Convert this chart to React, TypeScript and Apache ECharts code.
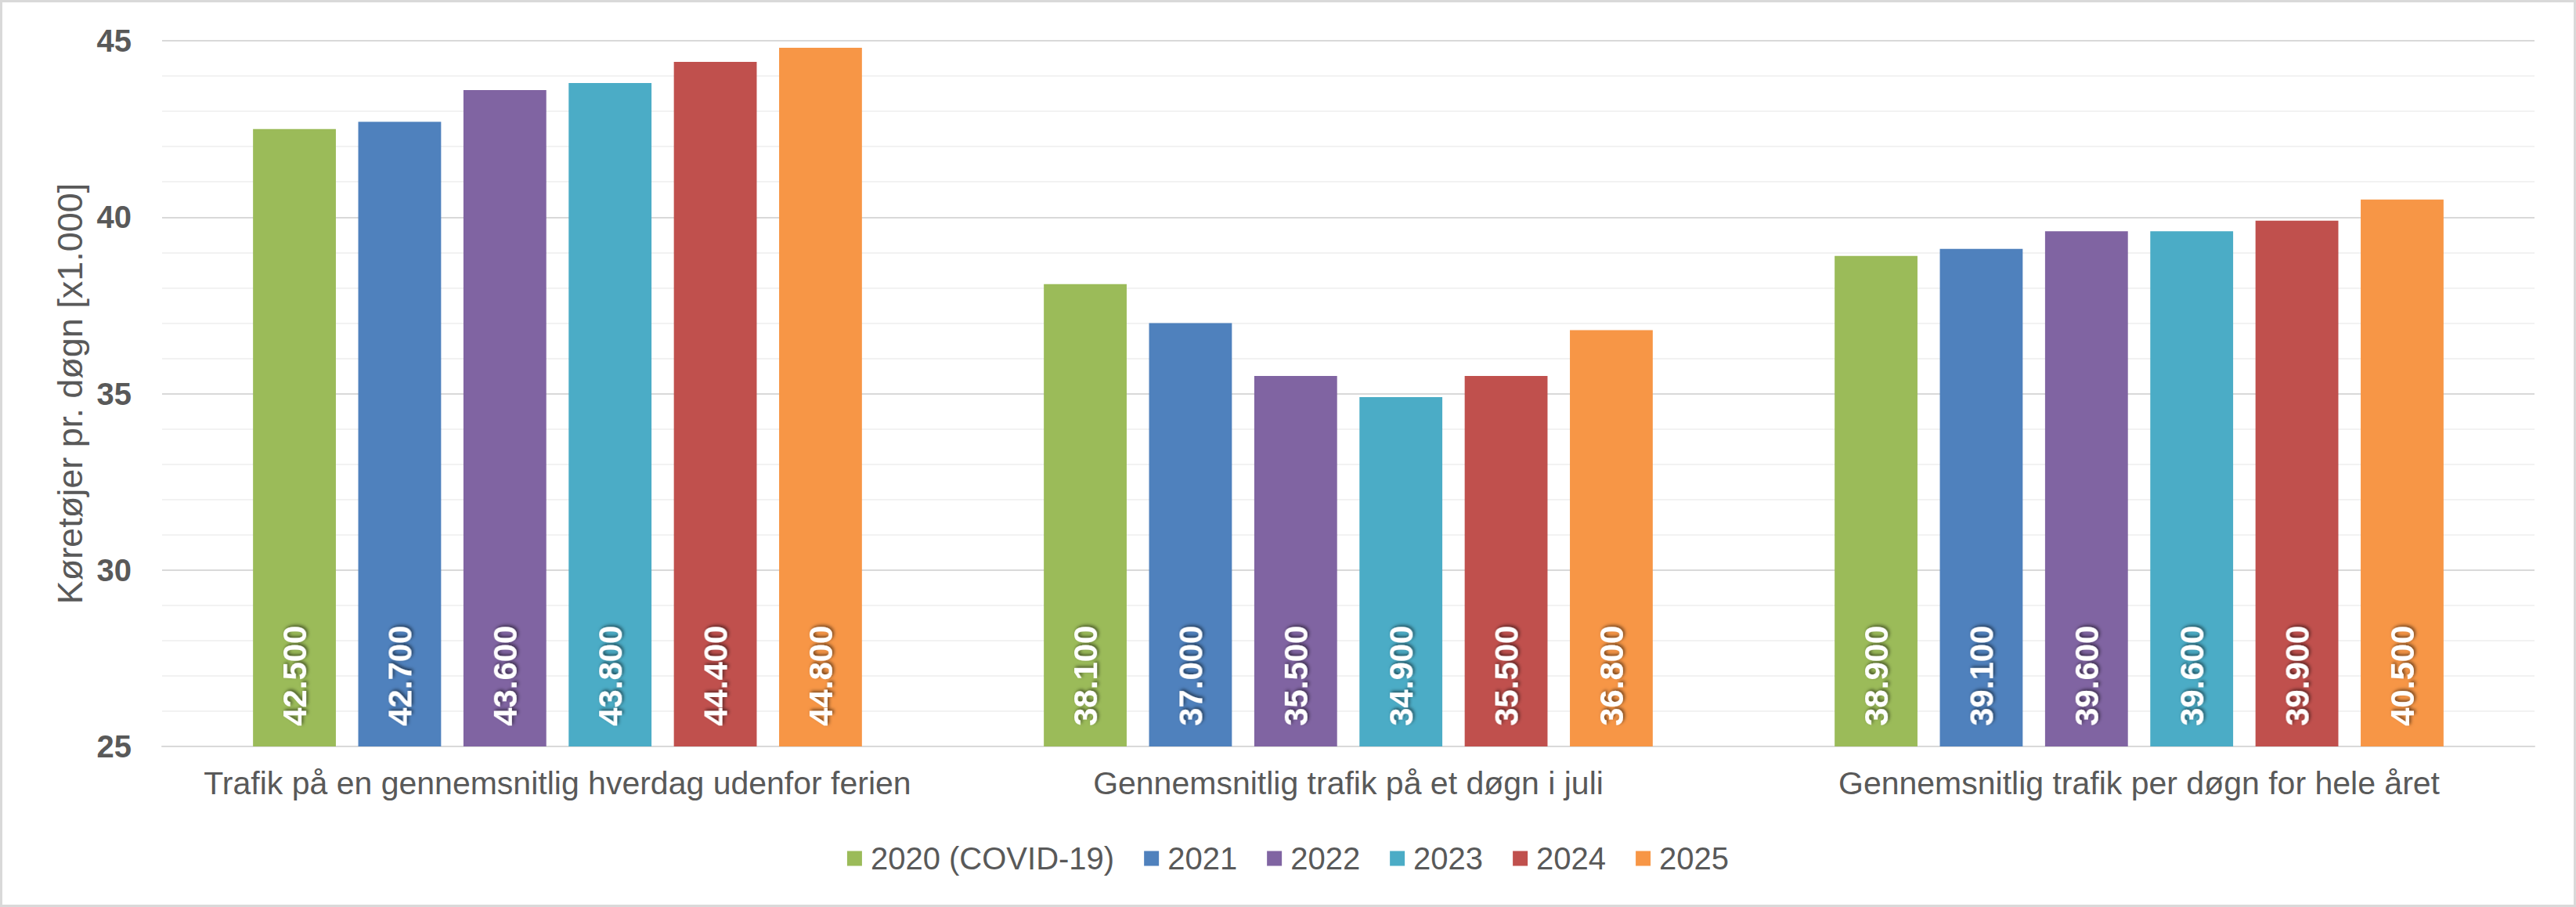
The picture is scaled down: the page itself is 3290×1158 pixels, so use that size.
import React, { useEffect, useRef } from 'react';
import * as echarts from 'echarts';

const categories = [
  'Trafik på en gennemsnitlig hverdag udenfor ferien',
  'Gennemsnitlig trafik på et døgn i juli',
  'Gennemsnitlig trafik per døgn for hele året',
];

const years = ['2020 (COVID-19)', '2021', '2022', '2023', '2024', '2025'];
const colors = ['#9BBB59', '#4F81BD', '#8064A2', '#4BACC6', '#C0504D', '#F79646'];

// vehicles per day, in thousands (one array per year, one value per category)
const v2020 = [42.5, 38.1, 38.9];
const v2021 = [42.7, 37.0, 39.1];
const v2022 = [43.6, 35.5, 39.6];
const v2023 = [43.8, 34.9, 39.6];
const v2024 = [44.4, 35.5, 39.9];
const v2025 = [44.8, 36.8, 40.5];
const seriesValues = [v2020, v2021, v2022, v2023, v2024, v2025];

const FONT = '"Liberation Sans", Arial, sans-serif';
const GREY = '#595959';

// 42.5 -> "42.500" (Danish thousands separator)
const formatThousands = (v: number): string => {
  const s = String(Math.round(v * 1000));
  return s.replace(/\B(?=(\d{3})+(?!\d))/g, '.');
};

const App: React.FC = () => {
  const chartRef = useRef<HTMLDivElement>(null);

  useEffect(() => {
    document.body.style.margin = '0';
    if (!chartRef.current) return;
    const chart = echarts.init(chartRef.current, undefined, { renderer: 'svg' });

    const option: echarts.EChartsOption = {
      animation: false,
      backgroundColor: '#ffffff',
      graphic: [
        {
          type: 'rect',
          shape: { x: 1.5, y: 1.5, width: 3287, height: 1155 },
          style: { fill: 'none', stroke: '#d9d9d9', lineWidth: 3 },
          silent: true,
        },
      ],
      grid: { left: 207, right: 53, top: 52, bottom: 205 },
      legend: {
        data: years,
        top: 1071,
        left: 'center',
        icon: 'rect',
        itemWidth: 19,
        itemHeight: 19,
        itemGap: 38,
        textStyle: { fontSize: 40, color: GREY, fontFamily: FONT, padding: [0, 0, 0, 6] },
      },
      xAxis: {
        type: 'category',
        data: categories,
        axisTick: { show: false },
        axisLine: { lineStyle: { color: '#d9d9d9', width: 2 } },
        axisLabel: { fontSize: 41, color: GREY, fontFamily: FONT, margin: 26, interval: 0 },
      },
      yAxis: {
        type: 'value',
        min: 25,
        max: 45,
        interval: 5,
        name: 'Køretøjer pr. døgn [x1.000]',
        nameLocation: 'middle',
        nameGap: 95,
        nameTextStyle: { fontSize: 45, color: GREY, fontFamily: FONT },
        axisLine: { show: false },
        axisTick: { show: false },
        axisLabel: { fontSize: 40, fontWeight: 'bold', color: GREY, fontFamily: FONT, margin: 39 },
        splitLine: { lineStyle: { color: '#d9d9d9', width: 2 } },
        minorTick: { show: false, splitNumber: 5 },
        minorSplitLine: { show: true, lineStyle: { color: '#f2f2f2', width: 2 } },
      },
      series: years.map((year, i) => ({
        name: year,
        type: 'bar',
        data: seriesValues[i],
        barGap: '27%',
        barCategoryGap: '23%',
        itemStyle: { color: colors[i] },
        label: {
          show: true,
          position: 'insideBottom',
          rotate: 90,
          align: 'left',
          verticalAlign: 'middle',
          distance: 26,
          color: '#ffffff',
          fontSize: 42,
          fontWeight: 'bold',
          fontFamily: FONT,
          textShadowColor: 'rgba(0,0,0,0.55)',
          textShadowBlur: 4,
          textShadowOffsetX: 2,
          textShadowOffsetY: 2,
          formatter: (p: any) => formatThousands(p.value as number),
        },
      })),
    };

    chart.setOption(option);
    return () => {
      chart.dispose();
    };
  }, []);

  return <div ref={chartRef} style={{ width: 3290, height: 1158 }} />;
};

export default App;
